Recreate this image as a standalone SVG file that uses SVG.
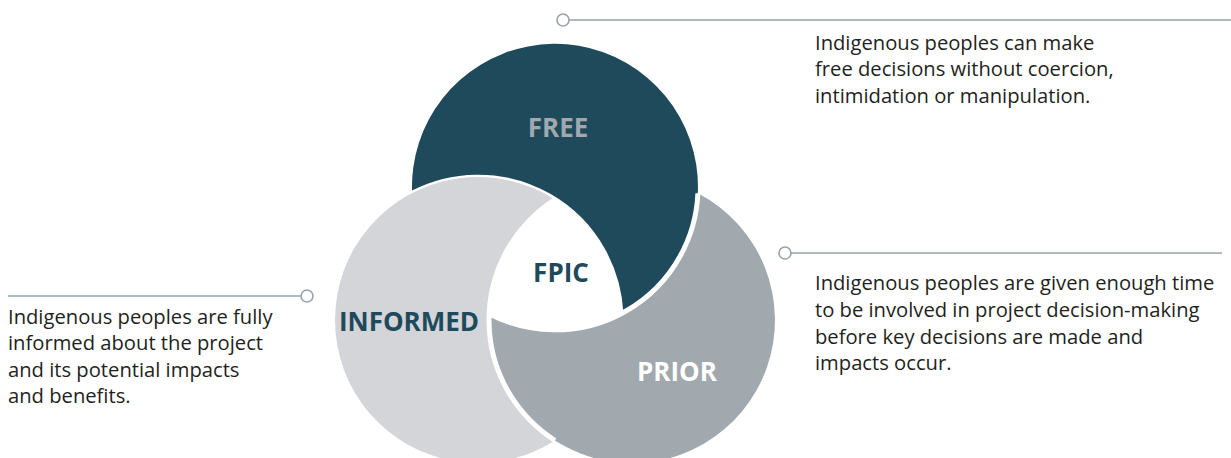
<svg xmlns="http://www.w3.org/2000/svg" width="1231" height="458" viewBox="0 0 1231 458">
<style>
.gap{stroke:#fff;stroke-width:5;fill:none;stroke-linecap:butt}
.lbl{font-family:"Open Sans","Liberation Sans",sans-serif;font-weight:700;font-size:26px;text-anchor:middle}
.body{font-family:"Open Sans","Liberation Sans",sans-serif;font-size:20.2px;fill:#231f20}
.lead{stroke:#9aa3aa;stroke-width:1.6;fill:none}
.dot{stroke:#9aa3aa;stroke-width:1.6;fill:#fff}
</style>
<rect width="1231" height="458" fill="#fff"/>
<g id="free">
<path fill="#1e4a5c" d="M412.1,193.25 A143,143 0 1 1 620.9,313.75 A143,143 0 0 0 412.1,193.25 Z"/>
<path class="gap" d="M620.9,313.75 A143,143 0 0 0 412.1,193.25"/>
<text class="lbl" x="558" y="137" fill="#a1a8ae">FREE</text>
</g>
<g id="prior">
<path fill="#a1a8ae" d="M697.9,193.25 A143,143 0 1 1 489.1,313.75 A143,143 0 0 0 697.9,193.25 Z"/>
<path class="gap" d="M489.1,313.75 A143,143 0 0 0 697.9,193.25"/>
<text class="lbl" x="677" y="381" fill="#fff">PRIOR</text>
</g>
<g id="informed">
<path fill="#d3d5d9" d="M555,199.5 A143,143 0 1 0 555,440.5 A143,143 0 0 1 555,199.5 Z"/>
<path class="gap" d="M555,440.5 A143,143 0 0 1 555,199.5"/>
<text class="lbl" x="409" y="331" fill="#1e4a5c">INFORMED</text>
</g>
<g id="fpic">
<text class="lbl" x="561" y="282" fill="#1e4a5c">FPIC</text>
</g>
<g id="connectors">
<line class="lead" x1="569" y1="20" x2="1231" y2="20"/>
<circle class="dot" cx="563" cy="20" r="6"/>
<line class="lead" x1="791" y1="253" x2="1222" y2="253"/>
<circle class="dot" cx="785" cy="253" r="6"/>
<line class="lead" x1="8" y1="296" x2="301" y2="296"/>
<circle class="dot" cx="307" cy="296" r="6"/>
</g>
<g id="desc-free">
<text class="body" x="815" y="50">Indigenous peoples can make</text>
<text class="body" x="815" y="76">free decisions without coercion,</text>
<text class="body" x="815" y="103">intimidation or manipulation.</text>
</g>
<g id="desc-prior">
<text class="body" x="815" y="290">Indigenous peoples are given enough time</text>
<text class="body" x="815" y="317">to be involved in project decision-making</text>
<text class="body" x="815" y="344">before key decisions are made and</text>
<text class="body" x="815" y="370">impacts occur.</text>
</g>
<g id="desc-informed">
<text class="body" x="8" y="324">Indigenous peoples are fully</text>
<text class="body" x="8" y="350">informed about the project</text>
<text class="body" x="8" y="377">and its potential impacts</text>
<text class="body" x="8" y="403">and benefits.</text>
</g>
</svg>
